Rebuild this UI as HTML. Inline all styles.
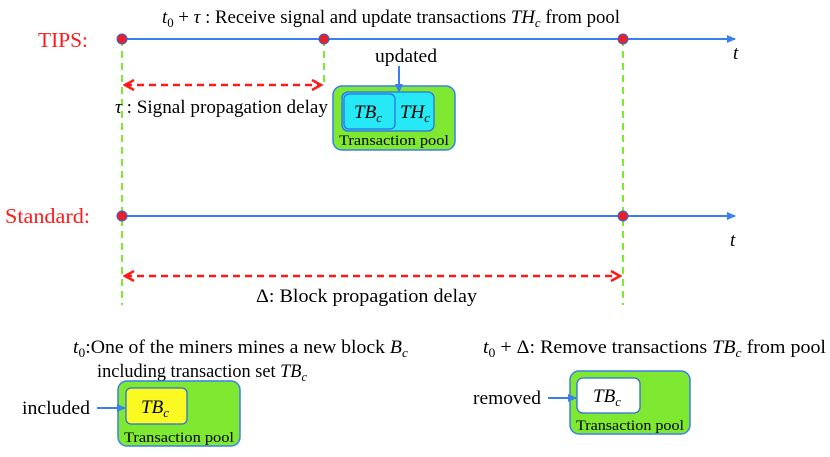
<!DOCTYPE html>
<html><head><meta charset="utf-8"><style>
html,body{margin:0;padding:0;background:#fff}
svg{display:block}
text{font-family:"Liberation Serif",serif;font-size:19px;fill:#000}
.i{font-style:italic}
.s{font-size:13px}
.r{fill:#ff1a1a;font-size:21px}
.p{font-size:15px}
</style></head><body>
<svg width="830" height="457" viewBox="0 0 830 457" xmlns="http://www.w3.org/2000/svg">
<defs>
<marker id="ab" markerWidth="10" markerHeight="10" refX="8" refY="5" orient="auto" markerUnits="userSpaceOnUse"><path d="M0,1 L9,5 L0,9 Z" fill="#3a7ff0"/></marker>
<marker id="ar" markerWidth="12" markerHeight="12" refX="10" refY="6" orient="auto-start-reverse" markerUnits="userSpaceOnUse"><path d="M1,1 L10,6 L1,11" fill="none" stroke="#ff1a1a" stroke-width="2.5"/></marker>
</defs>
<g stroke="#7fe830" stroke-width="2" stroke-dasharray="7,5">
<line x1="122" y1="39" x2="122" y2="305"/>
<line x1="324" y1="39" x2="324" y2="86"/>
<line x1="623" y1="39" x2="623" y2="305"/>
</g>
<line x1="122" y1="39" x2="735" y2="39" stroke="#3a7ff0" stroke-width="2" marker-end="url(#ab)"/>
<line x1="122" y1="216" x2="735" y2="216" stroke="#3a7ff0" stroke-width="2" marker-end="url(#ab)"/>
<g fill="#e8202a" stroke="#3a5fd0" stroke-width="1">
<circle cx="122" cy="39" r="5"/><circle cx="324" cy="39" r="5"/><circle cx="623" cy="39" r="5"/>
<circle cx="122" cy="216" r="5"/><circle cx="623" cy="216" r="5"/>
</g>
<text class="r" x="38" y="47" textLength="50" lengthAdjust="spacingAndGlyphs">TIPS:</text>
<text class="r" x="5" y="223" textLength="85" lengthAdjust="spacingAndGlyphs">Standard:</text>
<text class="i" x="733" y="59">t</text>
<text class="i" x="730" y="246">t</text>
<text x="162" y="23" textLength="458" lengthAdjust="spacingAndGlyphs"><tspan class="i">t</tspan><tspan class="s" dy="4">0</tspan><tspan dy="-4"> + </tspan><tspan class="i">τ</tspan> : Receive signal and update transactions <tspan class="i">TH</tspan><tspan class="s i" dy="4">c</tspan><tspan dy="-4"> from pool</tspan></text>
<line x1="125" y1="85" x2="321" y2="85" stroke="#ff1a1a" stroke-width="2.5" stroke-dasharray="7,5" marker-start="url(#ar)" marker-end="url(#ar)"/>
<text x="115" y="113" textLength="213" lengthAdjust="spacingAndGlyphs"><tspan class="i">τ</tspan> : Signal propagation delay</text>
<line x1="125" y1="276" x2="620" y2="276" stroke="#ff1a1a" stroke-width="2.5" stroke-dasharray="7,5" marker-start="url(#ar)" marker-end="url(#ar)"/>
<text x="256" y="302" textLength="221" lengthAdjust="spacingAndGlyphs">Δ: Block propagation delay</text>
<rect x="333" y="86" width="122" height="64" rx="9" fill="#7fe830" stroke="#3a7ff0" stroke-width="1.5"/>
<rect x="342" y="92" width="92" height="39" rx="6" fill="#27e8f5" stroke="#2f6fe0" stroke-width="1.3"/>
<rect x="344" y="94" width="51" height="35" rx="5" fill="#27e8f5" stroke="#2f6fe0" stroke-width="1.3"/>
<text class="i" x="354" y="118">TB<tspan class="s" dy="4">c</tspan></text>
<text class="i" x="400" y="118">TH<tspan class="s" dy="4">c</tspan></text>
<text class="p" x="339" y="145" textLength="110" lengthAdjust="spacingAndGlyphs">Transaction pool</text>
<text x="375" y="62" textLength="62" lengthAdjust="spacingAndGlyphs">updated</text>
<line x1="399" y1="66" x2="399" y2="92" stroke="#3a7ff0" stroke-width="2" marker-end="url(#ab)"/>
<text x="73" y="353" textLength="335" lengthAdjust="spacingAndGlyphs"><tspan class="i">t</tspan><tspan class="s" dy="4">0</tspan><tspan dy="-4">:One of the miners mines a new block </tspan><tspan class="i">B</tspan><tspan class="s i" dy="4">c</tspan></text>
<text x="97" y="377" textLength="210" lengthAdjust="spacingAndGlyphs">including transaction set <tspan class="i">TB</tspan><tspan class="s i" dy="4">c</tspan></text>
<rect x="118" y="381" width="122" height="65" rx="9" fill="#7fe830" stroke="#3a7ff0" stroke-width="1.5"/>
<rect x="126" y="388" width="61" height="36" rx="5" fill="#fafa22" stroke="#2f6fe0" stroke-width="1.3"/>
<text class="i" x="141" y="413">TB<tspan class="s" dy="4">c</tspan></text>
<text class="p" x="124" y="442" textLength="110" lengthAdjust="spacingAndGlyphs">Transaction pool</text>
<text x="22" y="414" textLength="68" lengthAdjust="spacingAndGlyphs">included</text>
<line x1="97" y1="408" x2="125" y2="408" stroke="#3a7ff0" stroke-width="2" marker-end="url(#ab)"/>
<text x="483" y="353" textLength="343" lengthAdjust="spacingAndGlyphs"><tspan class="i">t</tspan><tspan class="s" dy="4">0</tspan><tspan dy="-4"> + Δ: Remove transactions </tspan><tspan class="i">TB</tspan><tspan class="s i" dy="4">c</tspan><tspan dy="-4"> from pool</tspan></text>
<rect x="570" y="371" width="120" height="63" rx="9" fill="#7fe830" stroke="#3a7ff0" stroke-width="1.5"/>
<rect x="577" y="378" width="63" height="35" rx="6" fill="#fff" stroke="#2f6fe0" stroke-width="1.3"/>
<text class="i" x="593" y="402">TB<tspan class="s" dy="4">c</tspan></text>
<text class="p" x="576" y="430" textLength="108" lengthAdjust="spacingAndGlyphs">Transaction pool</text>
<text x="473" y="404" textLength="68" lengthAdjust="spacingAndGlyphs">removed</text>
<line x1="548" y1="398" x2="576" y2="398" stroke="#3a7ff0" stroke-width="2" marker-end="url(#ab)"/>
</svg>
</body></html>
